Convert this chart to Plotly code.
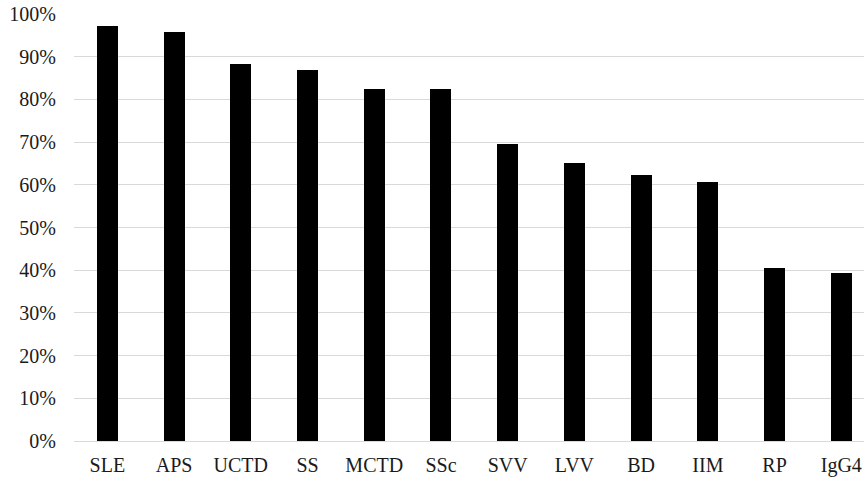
import plotly.graph_objects as go

categories = ["SLE", "APS", "UCTD", "SS", "MCTD", "SSc", "SVV", "LVV", "BD", "IIM", "RP", "IgG4"]
values = [0.972, 0.957, 0.884, 0.870, 0.825, 0.825, 0.695, 0.652, 0.623, 0.607, 0.405, 0.393]
y_ticks = [i / 10 for i in range(11)]

fig = go.Figure(go.Bar(
    x=list(range(len(categories))), y=values,
    marker=dict(color="black", line=dict(width=0)),
    width=0.315,
))

font = dict(family="Liberation Serif, Times New Roman, serif", size=20, color="#1a1a1a")

fig.update_layout(
    width=864, height=479,
    margin=dict(l=74, r=0, t=14, b=38),
    plot_bgcolor="white", paper_bgcolor="white",
    showlegend=False,
    font=font,
    bargap=0,
)
fig.update_xaxes(
    tickmode="array", tickvals=list(range(len(categories))), ticktext=categories,
    range=[-0.5, 11.34], showgrid=False, zeroline=False, showline=False,
    ticks="", tickfont=font, ticklabelstandoff=10, automargin=False,
)
fig.update_yaxes(
    range=[0, 1.0], tickmode="array", tickvals=y_ticks, tickformat=".0%",
    showgrid=True, gridcolor="#d9d9d9", gridwidth=1.3,
    zeroline=True, zerolinecolor="#d9d9d9", zerolinewidth=1.3,
    showline=False, ticks="", tickfont=font, ticklabelstandoff=17, automargin=False,
)

fig.write_html(
    "out.html",
    config={"displayModeBar": False},
    post_script="document.body.style.margin='0';document.body.style.overflow='hidden';",
)
